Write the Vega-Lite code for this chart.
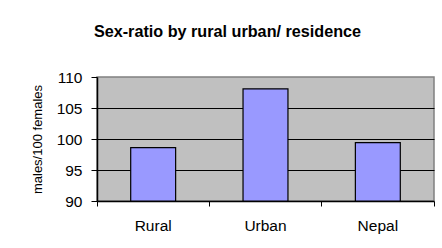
{
  "$schema": "https://vega.github.io/schema/vega-lite/v6.json",
  "width": 337,
  "height": 124,
  "autosize": {"type": "none"},
  "padding": {"left": 97, "top": 77, "right": 8, "bottom": 47},
  "background": "white",
  "config": {
    "font": "Liberation Sans",
    "view": {"fill": "#c0c0c0", "stroke": "#808080", "strokeWidth": 1.5}
  },
  "title": {
    "text": "Sex-ratio by rural urban/ residence",
    "font": "Liberation Sans",
    "fontSize": 16.2,
    "fontWeight": "bold",
    "color": "black",
    "anchor": "middle",
    "dx": -38,
    "offset": 30
  },
  "data": {
    "values": [
      {"area": "Rural", "ratio": 98.6},
      {"area": "Urban", "ratio": 108.1},
      {"area": "Nepal", "ratio": 99.4}
    ]
  },
  "mark": {"type": "bar", "fill": "#9999ff", "stroke": "black", "strokeWidth": 1.2, "width": {"band": 0.4}},
  "encoding": {
    "x": {
      "field": "area",
      "type": "nominal",
      "sort": null,
      "scale": {"paddingInner": 0, "paddingOuter": 0},
      "axis": {
        "title": null,
        "labelAngle": 0,
        "labelFontSize": 15.5,
        "labelColor": "black",
        "labelPadding": 12,
        "bandPosition": 1,
        "tickExtra": true,
        "tickColor": "black",
        "tickSize": 5,
        "domainColor": "black",
        "domainWidth": 1.5
      }
    },
    "y": {
      "field": "ratio",
      "type": "quantitative",
      "scale": {"domain": [90, 110], "nice": false, "zero": false},
      "axis": {
        "title": "males/100 females",
        "titleFontSize": 13,
        "titleFontWeight": "normal",
        "titleColor": "black",
        "titlePadding": 12,
        "values": [90, 95, 100, 105, 110],
        "labelFontSize": 15.5,
        "labelColor": "black",
        "labelPadding": 9,
        "tickColor": "black",
        "tickSize": 6,
        "domainColor": "black",
        "domainWidth": 1.5,
        "grid": true,
        "gridColor": "black",
        "gridOpacity": {"condition": {"test": "datum.value === 110 || datum.value === 90", "value": 0}, "value": 1}
      }
    },
    "y2": {"datum": 90}
  }
}
